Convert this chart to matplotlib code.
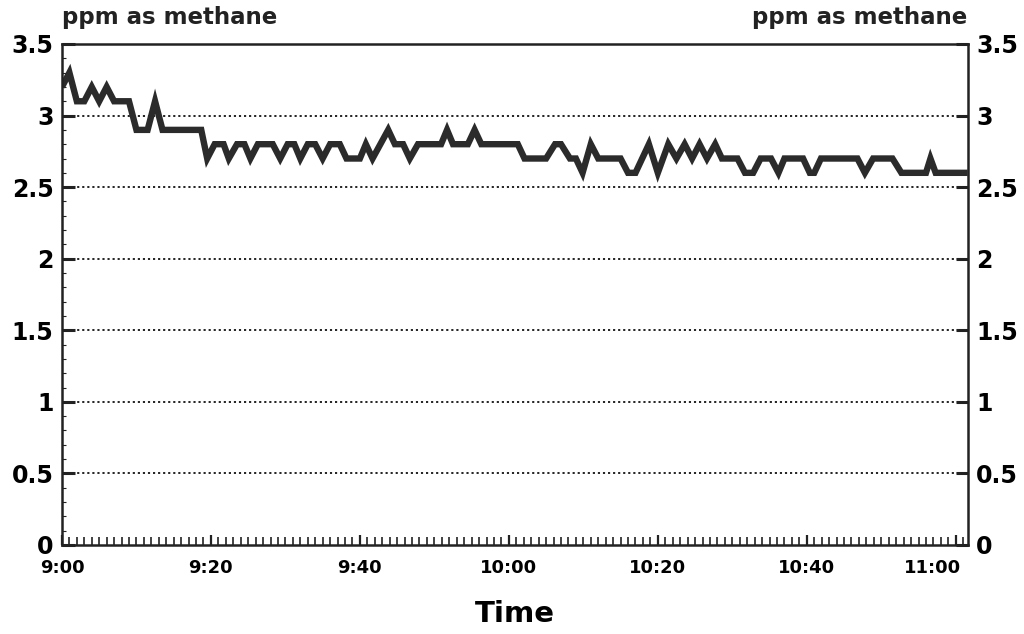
import matplotlib
matplotlib.use("Agg")
import matplotlib.pyplot as plt
import matplotlib.transforms as mtransforms
from matplotlib.ticker import MultipleLocator

# minutes after 9:00 and methane reading (ppm)
minutes = [0, 1, 2, 3, 4, 5, 6, 7, 9, 10, 11.5, 12.5, 13.5, 18.7, 19.5, 20.5,
           21.7, 22.4, 23.5, 24.5, 25.3, 26.3, 28.3, 29.3, 30.3, 31.2, 32, 33,
           34, 35, 36, 37.3, 38.2, 40, 40.8, 41.7, 43.8, 44.7, 45.8, 46.7, 47.8,
           50.9, 51.7, 52.5, 54.5, 55.4, 56.3, 61.2, 62.1, 65, 66.2, 67, 68.2,
           69, 69.9, 71, 72, 75, 76, 77, 78.8, 80, 81.4, 82.5, 83.6, 84.6, 85.6,
           86.6, 87.7, 88.6, 90.7, 91.7, 92.8, 93.8, 95.2, 96.2, 97, 99.5,
           100.4, 101, 101.9, 106.8, 107.8, 108.9, 111.5, 112.7, 116, 116.6,
           117.3, 121.6]
ppm = [3.2, 3.3, 3.1, 3.1, 3.2, 3.1, 3.2, 3.1, 3.1, 2.9, 2.9, 3.1, 2.9, 2.9,
       2.7, 2.8, 2.8, 2.7, 2.8, 2.8, 2.7, 2.8, 2.8, 2.7, 2.8, 2.8, 2.7, 2.8,
       2.8, 2.7, 2.8, 2.8, 2.7, 2.7, 2.8, 2.7, 2.9, 2.8, 2.8, 2.7, 2.8,
       2.8, 2.9, 2.8, 2.8, 2.9, 2.8, 2.8, 2.7, 2.7, 2.8, 2.8, 2.7,
       2.7, 2.6, 2.8, 2.7, 2.7, 2.6, 2.6, 2.8, 2.6, 2.8, 2.7, 2.8, 2.7, 2.8,
       2.7, 2.8, 2.7, 2.7, 2.6, 2.6, 2.7, 2.7, 2.6, 2.7, 2.7,
       2.6, 2.6, 2.7, 2.7, 2.6, 2.7, 2.7, 2.6, 2.6, 2.7,
       2.6, 2.6]

tick_minutes = [0, 20, 40, 60, 80, 100, 120]
tick_labels = ["9:00", "9:20", "9:40", "10:00", "10:20", "10:40", "11:00"]
y_ticks = [0, 0.5, 1, 1.5, 2, 2.5, 3, 3.5]
y_labels = ["0", "0.5", "1", "1.5", "2", "2.5", "3", "3.5"]

INK = "#222222"
FONT = "DejaVu Sans"

fig = plt.figure(figsize=(10.24, 6.34), dpi=100, facecolor="white")
ax = fig.add_axes([0.0605, 0.1404, 0.8845, 0.7902])

ax.plot(minutes, ppm, color="#2b2b2b", linewidth=4.6,
        solid_joinstyle="miter", solid_capstyle="butt")

for y in [0.5, 1, 1.5, 2, 2.5, 3]:
    ax.axhline(y, color=INK, linewidth=1.4, linestyle=(0, (1.1, 1.5)), zorder=0)

ax.set_xlim(0, 121.6)
ax.set_ylim(0, 3.5)

ax.set_xticks(tick_minutes)
ax.set_xticklabels(tick_labels, fontfamily=FONT, fontweight="bold", fontsize=13)
ax.xaxis.set_minor_locator(MultipleLocator(1))
ax.tick_params(axis="x", which="major", direction="in", length=7, width=1.6,
               color=INK, pad=10)
ax.tick_params(axis="x", which="minor", direction="in", length=6, width=1.2,
               color=INK)

# nudge the last time label left, as on the original
shift = mtransforms.ScaledTranslation(-23 / 100, 0, fig.dpi_scale_trans)
lbl = ax.get_xticklabels()[-1]
lbl.set_transform(lbl.get_transform() + shift)

ax.set_yticks(y_ticks)
ax.set_yticklabels(y_labels, fontfamily=FONT, fontweight="bold", fontsize=17)
ax.yaxis.set_minor_locator(MultipleLocator(0.1))
ax.tick_params(axis="y", which="major", direction="in", length=9, width=2.2,
               color=INK, left=True, right=True, labelleft=True,
               labelright=True, pad=6)
ax.tick_params(axis="y", which="minor", direction="in", length=3, width=0.8,
               color=INK, left=True, right=False)

for s in ax.spines.values():
    s.set_color(INK)
    s.set_linewidth(1.8)

ax.set_xlabel("Time", fontfamily=FONT, fontweight="bold", fontsize=21,
              labelpad=17)

fig.text(0.0605, 0.972, "ppm as methane", fontfamily=FONT, fontweight="bold",
         fontsize=16.5, ha="left", va="center", color=INK)
fig.text(0.945, 0.972, "ppm as methane", fontfamily=FONT, fontweight="bold",
         fontsize=16.5, ha="right", va="center", color=INK)

fig.savefig("out.png", dpi=100, facecolor="white")
